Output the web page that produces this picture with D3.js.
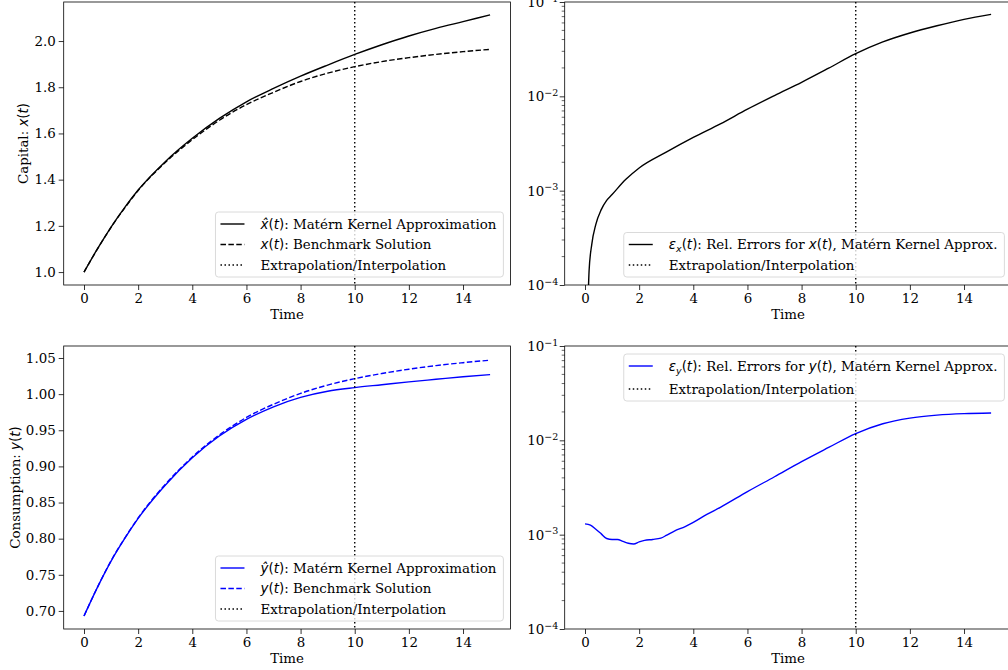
<!DOCTYPE html>
<html>
<head>
<meta charset="utf-8">
<script src="https://cdn.jsdelivr.net/npm/d3@7"></script>
<style>
  body { margin: 0; background: #fff; }
  text { font-family: 'DejaVu Serif', serif; font-size: 13.4px; fill: #000; }
</style>
</head>
<body>
<svg id="fig" width="1008" height="670"></svg>
<script>
// ---- data ----
var tPath = [0, 0.5, 1, 1.5, 2, 3, 4, 5, 6, 7, 8, 9, 10, 11, 12, 13, 14, 15];
var capitalApprox = [1.0, 1.101, 1.195, 1.279, 1.355, 1.478, 1.579, 1.665, 1.737, 1.795, 1.848, 1.896, 1.942, 1.984, 2.022, 2.055, 2.084, 2.113];
var capitalBench  = [1.0, 1.1007, 1.194, 1.277, 1.353, 1.474, 1.573, 1.657, 1.725, 1.778, 1.825, 1.861, 1.889, 1.911, 1.928, 1.942, 1.954, 1.964];
var consApprox = [0.693, 0.733, 0.7690, 0.800, 0.828, 0.874, 0.912, 0.942, 0.965, 0.9825, 0.9955, 1.004, 1.009, 1.013, 1.017, 1.0205, 1.024, 1.027];
var consBench  = [0.693, 0.733, 0.7695, 0.8005, 0.8287, 0.875, 0.913, 0.9435, 0.9678, 0.9860, 1.0010, 1.0125, 1.0214, 1.0285, 1.0345, 1.0395, 1.0435, 1.047];

var tErrX = [0.12, 0.15, 0.25, 0.4, 0.6, 0.8, 1.0, 1.5, 2, 3, 4, 5, 6, 7, 8, 9, 10, 11, 12, 13, 14, 15];
var errX  = [8e-5, 1.4e-4, 2.7e-4, 4.4e-4, 6.3e-4, 7.9e-4, 9.1e-4, 1.31e-3, 1.74e-3, 2.56e-3, 3.67e-3, 5.1e-3, 7.3e-3, 1.02e-2, 1.41e-2, 1.99e-2, 2.83e-2, 3.77e-2, 4.69e-2, 5.6e-2, 6.55e-2, 7.4e-2];

var tErrY = [0, 0.2, 0.4, 0.6, 0.8, 1.0, 1.2, 1.4, 1.6, 1.8, 2.0, 2.2, 2.5, 2.8, 3.0, 3.3, 3.7, 4.0, 4.5, 5, 6, 7, 8, 9, 10, 11, 12, 13, 14, 15];
var errY  = [1.30e-3, 1.26e-3, 1.14e-3, 1.02e-3, 9.1e-4, 8.9e-4, 8.9e-4, 8.5e-4, 8.1e-4, 7.96e-4, 8.4e-4, 8.7e-4, 8.9e-4, 9.2e-4, 9.8e-4, 1.09e-3, 1.22e-3, 1.35e-3, 1.64e-3, 1.95e-3, 2.86e-3, 4.11e-3, 5.94e-3, 8.4e-3, 1.18e-2, 1.50e-2, 1.72e-2, 1.85e-2, 1.92e-2, 1.95e-2];

var timeTicks = [0, 2, 4, 6, 8, 10, 12, 14];
var capitalTicks = [1.0, 1.2, 1.4, 1.6, 1.8, 2.0];
var consTicks = [0.70, 0.75, 0.80, 0.85, 0.90, 0.95, 1.00, 1.05];
var logTicks = [1e-4, 1e-3, 1e-2, 1e-1];
var boundaryTime = 10;

var svg = d3.select('#fig');
var DASH = '5.5,2.4', DOT = '1.5,2.5';

// mixed text: parts of [string, style] where r=serif, i=math italic, u=math upright, s=subscript
function richText(sel, parts) {
  var prevSub = false;
  parts.forEach(function (p) {
    var ts = sel.append('tspan').text(p[0]);
    if (p[1] === 'i' || p[1] === 's') ts.style('font-family', 'DejaVu Sans').style('font-style', 'italic');
    if (p[1] === 'u') ts.style('font-family', 'DejaVu Sans');
    if (p[1] === 's') ts.style('font-size', '9.5px').attr('dy', 3);
    if (prevSub) ts.attr('dy', -3);
    prevSub = p[1] === 's';
  });
  return sel;
}

function drawPanel(cfg) {
  var g = svg.append('g');
  var x = d3.scaleLinear().domain([-0.75, 15.75]).range([cfg.left, cfg.right]);
  var y = (cfg.log ? d3.scaleLog() : d3.scaleLinear()).domain(cfg.yDomain).range([cfg.bottom, cfg.top]);

  var clipId = 'clip' + cfg.id;
  svg.append('clipPath').attr('id', clipId).append('rect')
    .attr('x', cfg.left).attr('y', cfg.top).attr('width', cfg.right - cfg.left).attr('height', cfg.bottom - cfg.top);

  var plot = g.append('g').attr('clip-path', 'url(#' + clipId + ')');
  var line = d3.line().curve(d3.curveMonotoneX)
    .x(function (d) { return x(d[0]); }).y(function (d) { return y(d[1]); });

  cfg.series.forEach(function (s) {
    plot.append('path')
      .datum(s.t.map(function (t, i) { return [t, s.v[i]]; }))
      .attr('d', line).attr('fill', 'none')
      .attr('stroke', s.color).attr('stroke-width', 1.4)
      .attr('stroke-dasharray', s.dash || null);
  });

  plot.append('line')
    .attr('x1', x(boundaryTime)).attr('x2', x(boundaryTime))
    .attr('y1', cfg.top).attr('y2', cfg.bottom)
    .attr('stroke', '#000').attr('stroke-width', 1.4).attr('stroke-dasharray', DOT);

  // x axis
  var xa = g.append('g').attr('transform', 'translate(0,' + cfg.bottom + ')')
    .call(d3.axisBottom(x).tickValues(timeTicks).tickSize(5).tickPadding(3).tickFormat(d3.format('d')));
  xa.select('.domain').remove();
  xa.selectAll('text').attr('font-size', null).attr('font-family', null).attr('dy', '0.72em');
  g.append('text').attr('x', (cfg.left + cfg.right) / 2).attr('y', cfg.bottom + 34)
    .attr('text-anchor', 'middle').text('Time');

  // y axis
  var ya = g.append('g').attr('transform', 'translate(' + cfg.left + ',0)');
  if (cfg.log) {
    ya.call(d3.axisLeft(y).tickValues(logTicks).tickSize(5).tickFormat(''));
    var minor = [];
    [1e-4, 1e-3, 1e-2].forEach(function (b) { for (var k = 2; k < 10; k++) minor.push(b * k); });
    ya.selectAll('.minor').data(minor).enter().append('line')
      .attr('x1', 0).attr('x2', -3)
      .attr('y1', function (d) { return y(d); }).attr('y2', function (d) { return y(d); })
      .attr('stroke', '#000').attr('stroke-width', 0.6);
    logTicks.forEach(function (v) {
      var t = g.append('text').attr('x', cfg.left - 6.5).attr('y', y(v) + 5).attr('text-anchor', 'end');
      t.append('tspan').text('10');
      t.append('tspan').text('\u2212' + Math.round(-Math.log10(v)))
        .style('font-size', '9.5px').attr('dy', -5.5);
    });
  } else {
    ya.call(d3.axisLeft(y).tickValues(cfg.yTicks).tickSize(5).tickPadding(3).tickFormat(d3.format(cfg.fmt)));
    ya.selectAll('text').attr('font-size', null).attr('font-family', null);
  }
  ya.select('.domain').remove();
  g.selectAll('.tick line').attr('stroke-width', 0.8);

  if (cfg.ylabel) {
    var yl = g.append('text').attr('text-anchor', 'middle')
      .attr('transform', 'translate(' + cfg.ylabelX + ',' + (cfg.top + cfg.bottom) / 2 + ') rotate(-90)');
    richText(yl, cfg.ylabel);
  }

  // frame
  g.append('rect').attr('x', cfg.left).attr('y', cfg.top)
    .attr('width', cfg.right - cfg.left).attr('height', cfg.bottom - cfg.top)
    .attr('fill', 'none').attr('stroke', '#000').attr('stroke-width', 0.8);

  // legend
  var lg = cfg.legend;
  var n = lg.rows.length;
  var h = 24 + (n - 1) * lg.gap;
  var L = g.append('g');
  var box = L.append('rect').attr('rx', 3).attr('fill', '#fff').attr('fill-opacity', 0.8)
    .attr('stroke', '#d0d0d0').attr('stroke-width', 0.8);
  var maxW = 0;
  lg.rows.forEach(function (r, i) {
    var cy = 12 + i * lg.gap;
    L.append('line').attr('x1', 5).attr('x2', 29).attr('y1', cy).attr('y2', cy)
      .attr('stroke', r.color).attr('stroke-width', 1.4).attr('stroke-dasharray', r.dash || null);
    var t = L.append('text').attr('x', 45).attr('y', cy + 4.8);
    richText(t, r.label);
    maxW = Math.max(maxW, t.node().getComputedTextLength());
  });
  var w = 45 + maxW + 7;
  box.attr('width', w).attr('height', h);
  var bx = cfg.right - 7 - w;
  var by = lg.pos === 'lower' ? cfg.bottom - 8 - h : cfg.top + 8;
  L.attr('transform', 'translate(' + bx + ',' + by + ')');
}

var extrapRow = { label: [['Extrapolation/Interpolation', 'r']], color: '#000', dash: DOT };

drawPanel({
  id: 1, left: 63.7, right: 510.4, top: 2, bottom: 285,
  yDomain: [0.944, 2.169], yTicks: capitalTicks, fmt: '.1f',
  ylabel: [['Capital: ', 'r'], ['x', 'i'], ['(', 'u'], ['t', 'i'], [')', 'u']], ylabelX: 27.5,
  series: [
    { t: tPath, v: capitalApprox, color: '#000' },
    { t: tPath, v: capitalBench, color: '#000', dash: DASH }
  ],
  legend: { pos: 'lower', gap: 20.5, rows: [
    { label: [['x\u0302', 'i'], ['(', 'u'], ['t', 'i'], [')', 'u'], [': Matérn Kernel Approximation', 'r']], color: '#000' },
    { label: [['x', 'i'], ['(', 'u'], ['t', 'i'], [')', 'u'], [': Benchmark Solution', 'r']], color: '#000', dash: DASH },
    extrapRow
  ] }
});

drawPanel({
  id: 2, left: 564.7, right: 1011.4, top: 2, bottom: 285,
  log: true, yDomain: [1e-4, 1e-1],
  series: [{ t: tErrX, v: errX, color: '#000' }],
  legend: { pos: 'lower', gap: 20.5, rows: [
    { label: [['ε', 'i'], ['x', 's'], ['(', 'u'], ['t', 'i'], [')', 'u'], [': Rel. Errors for ', 'r'], ['x', 'i'], ['(', 'u'], ['t', 'i'], [')', 'u'], [', Matérn Kernel Approx.', 'r']], color: '#000' },
    extrapRow
  ] }
});

drawPanel({
  id: 3, left: 63.7, right: 510.4, top: 346, bottom: 629,
  yDomain: [0.675, 1.0666], yTicks: consTicks, fmt: '.2f',
  ylabel: [['Consumption: ', 'r'], ['y', 'i'], ['(', 'u'], ['t', 'i'], [')', 'u']], ylabelX: 19.5,
  series: [
    { t: tPath, v: consApprox, color: '#0000ff' },
    { t: tPath, v: consBench, color: '#0000ff', dash: DASH }
  ],
  legend: { pos: 'lower', gap: 20.5, rows: [
    { label: [['y\u0302', 'i'], ['(', 'u'], ['t', 'i'], [')', 'u'], [': Matérn Kernel Approximation', 'r']], color: '#0000ff' },
    { label: [['y', 'i'], ['(', 'u'], ['t', 'i'], [')', 'u'], [': Benchmark Solution', 'r']], color: '#0000ff', dash: DASH },
    extrapRow
  ] }
});

drawPanel({
  id: 4, left: 564.7, right: 1011.4, top: 346, bottom: 629,
  log: true, yDomain: [1e-4, 1e-1],
  series: [{ t: tErrY, v: errY, color: '#0000ff' }],
  legend: { pos: 'upper', gap: 23, rows: [
    { label: [['ε', 'i'], ['y', 's'], ['(', 'u'], ['t', 'i'], [')', 'u'], [': Rel. Errors for ', 'r'], ['y', 'i'], ['(', 'u'], ['t', 'i'], [')', 'u'], [', Matérn Kernel Approx.', 'r']], color: '#0000ff' },
    extrapRow
  ] }
});
</script>
</body>
</html>
